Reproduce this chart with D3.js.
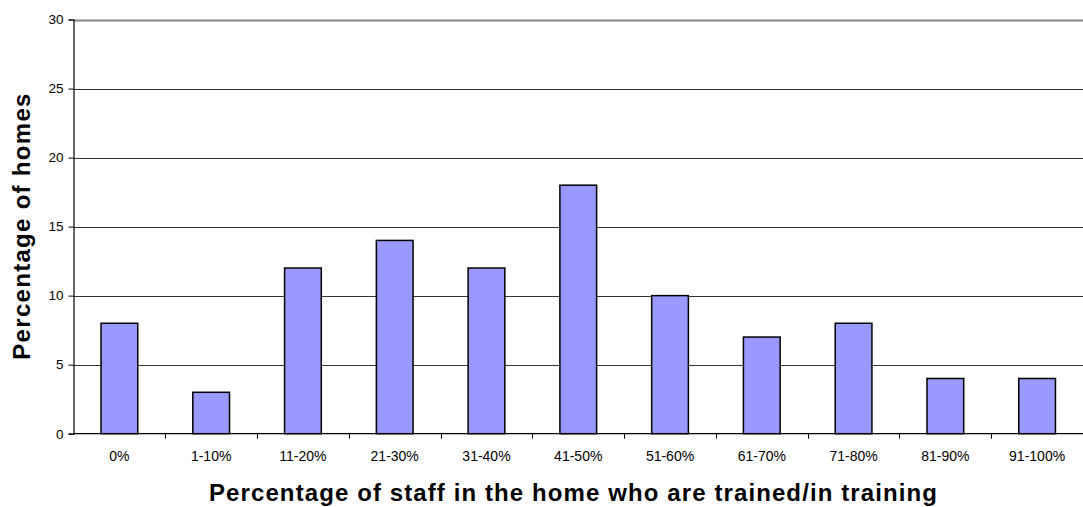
<!DOCTYPE html>
<html>
<head>
<meta charset="utf-8">
<script src="https://cdn.jsdelivr.net/npm/d3@7/dist/d3.min.js"></script>
<style>
  html, body { margin: 0; padding: 0; background: #fff; }
  svg { display: block; font-family: "Liberation Sans", Arial, sans-serif; }
</style>
</head>
<body>
<svg id="chart" width="1083" height="507"></svg>
<script>
// Share of homes by proportion of staff trained / in training
const categories = ["0%", "1-10%", "11-20%", "21-30%", "31-40%", "41-50%",
                    "51-60%", "61-70%", "71-80%", "81-90%", "91-100%"];
const values = [8, 3, 12, 14, 12, 18, 10, 7, 8, 4, 4];
const yTicks = [0, 5, 10, 15, 20, 25, 30];

const svg = d3.select("#chart");
const margin = { left: 73.5, right: 0, top: 19.5, bottom: 73.3 };
const W = 1083, H = 507;

const x = d3.scaleBand()
  .domain(categories)
  .range([margin.left, W - margin.right])
  .paddingInner(0.6)
  .paddingOuter(0.3);

const y = d3.scaleLinear()
  .domain([0, 30])
  .range([H - margin.bottom, margin.top]);

// horizontal gridlines
svg.append("g")
  .selectAll("line")
  .data(yTicks.filter(d => d > 0))
  .join("line")
  .attr("x1", margin.left)
  .attr("x2", W - margin.right)
  .attr("y1", d => Math.round(y(d)) + 0.5)
  .attr("y2", d => Math.round(y(d)) + 0.5)
  .attr("stroke", d => d === 30 ? "#888" : "#333")
  .attr("stroke-width", d => d === 30 ? 2 : 1);

// bars
svg.append("g")
  .selectAll("rect")
  .data(values)
  .join("rect")
  .attr("x", (d, i) => x(categories[i]))
  .attr("y", d => y(d))
  .attr("width", x.bandwidth())
  .attr("height", d => y(0) - y(d))
  .attr("fill", "#9999ff")
  .attr("stroke", "#000")
  .attr("stroke-width", 1.5);

// y axis
const yAxis = svg.append("g")
  .attr("transform", `translate(${margin.left},0)`)
  .call(d3.axisLeft(y).tickValues(yTicks).tickSize(5).tickPadding(5));
yAxis.select(".domain").attr("stroke", "#000").attr("stroke-width", 1.2);
yAxis.selectAll(".tick line").attr("stroke", "#000");
yAxis.selectAll(".tick text")
  .attr("font-size", 13.5)
  .attr("font-family", "Liberation Sans, Arial, sans-serif")
  .attr("fill", "#000");

// x axis with ticks on the category boundaries
const bottom = y(0);
const step = x.step();
const xAxisG = svg.append("g");
xAxisG.append("line")
  .attr("x1", margin.left).attr("x2", W - margin.right)
  .attr("y1", bottom).attr("y2", bottom)
  .attr("stroke", "#000").attr("stroke-width", 1.2);
xAxisG.selectAll("line.tk")
  .data(categories.slice(1))
  .join("line")
  .attr("class", "tk")
  .attr("x1", d => Math.round(x(d) - step * x.paddingInner() / 2) + 0.5)
  .attr("x2", d => Math.round(x(d) - step * x.paddingInner() / 2) + 0.5)
  .attr("y1", bottom)
  .attr("y2", bottom + 5)
  .attr("stroke", "#000");
xAxisG.selectAll("text")
  .data(categories)
  .join("text")
  .attr("x", d => x(d) + x.bandwidth() / 2)
  .attr("y", 461)
  .attr("text-anchor", "middle")
  .attr("font-size", 14)
  .attr("fill", "#000")
  .text(d => d);

// axis titles
svg.append("text")
  .attr("x", 573.5)
  .attr("y", 501)
  .attr("text-anchor", "middle")
  .attr("font-size", 24)
  .attr("font-weight", "bold")
  .attr("letter-spacing", 1.1)
  .text("Percentage of staff in the home who are trained/in training");

svg.append("text")
  .attr("transform", "translate(29.5,226) rotate(-90)")
  .attr("text-anchor", "middle")
  .attr("font-size", 24)
  .attr("font-weight", "bold")
  .attr("letter-spacing", 1.3)
  .text("Percentage of homes");
</script>
</body>
</html>
